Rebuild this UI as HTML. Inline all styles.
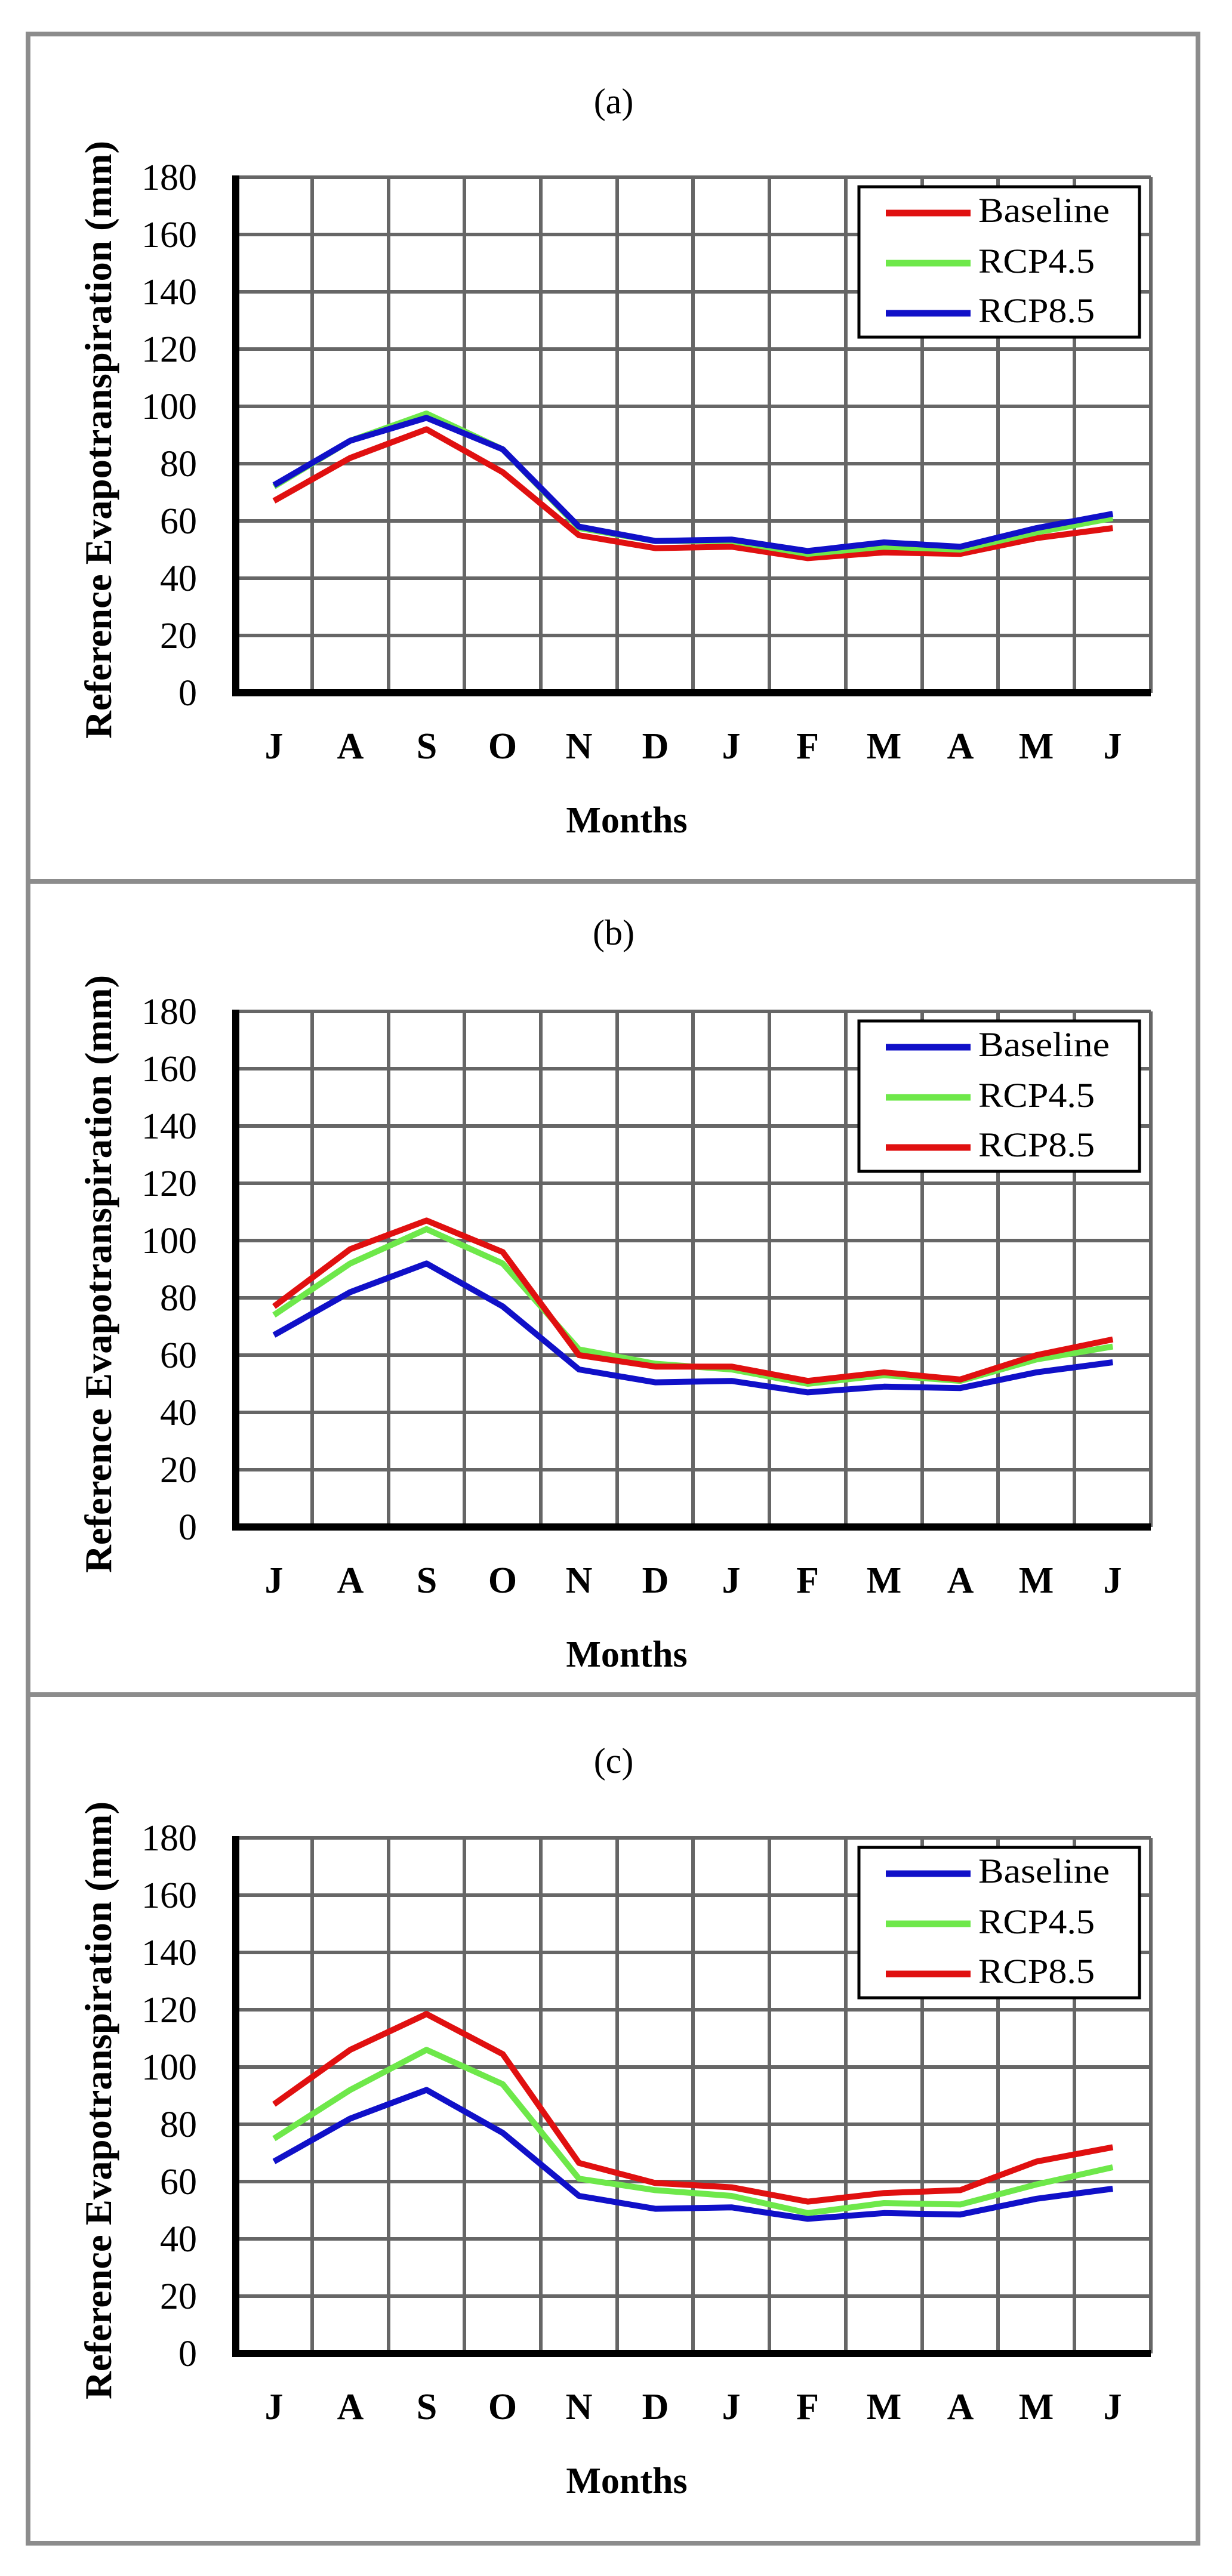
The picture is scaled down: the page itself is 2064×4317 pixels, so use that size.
<!DOCTYPE html>
<html><head><meta charset="utf-8"><style>
html,body{margin:0;padding:0;background:#fff;}
svg{display:block;}
text{font-family:"Liberation Serif",serif;fill:#000;}
.tk{font-size:62px;text-anchor:end;}
.ti{font-size:60px;text-anchor:middle;}
.xl{font-size:62px;font-weight:bold;text-anchor:middle;}
.yl{font-size:64px;font-weight:bold;text-anchor:middle;}
.lg{font-size:58px;}
.grid line{stroke:#666;stroke-width:6;}
.s{fill:none;stroke-width:10;stroke-linejoin:round;vector-effect:non-scaling-stroke;}
</style></head><body>
<svg width="2064" height="4317" viewBox="0 0 2064 4317" xmlns="http://www.w3.org/2000/svg">
<rect x="0" y="0" width="2064" height="4317" fill="#fff"/>
<rect x="47" y="57" width="1960" height="4205" fill="none" stroke="#8c8c8c" stroke-width="8"/>
<line x1="47" y1="1477" x2="2007" y2="1477" stroke="#8c8c8c" stroke-width="8"/>
<line x1="47" y1="2840" x2="2007" y2="2840" stroke="#8c8c8c" stroke-width="8"/>
<defs>
<g id="frame">
 <g class="grid">
  <line x1="395" y1="0" x2="1928" y2="0"/><line x1="395" y1="96" x2="1928" y2="96"/><line x1="395" y1="192" x2="1928" y2="192"/><line x1="395" y1="288" x2="1928" y2="288"/><line x1="395" y1="384" x2="1928" y2="384"/><line x1="395" y1="480" x2="1928" y2="480"/><line x1="395" y1="576" x2="1928" y2="576"/><line x1="395" y1="672" x2="1928" y2="672"/><line x1="395" y1="768" x2="1928" y2="768"/>
  <line x1="523" y1="0" x2="523" y2="864"/><line x1="651" y1="0" x2="651" y2="864"/><line x1="778" y1="0" x2="778" y2="864"/><line x1="906" y1="0" x2="906" y2="864"/><line x1="1034" y1="0" x2="1034" y2="864"/><line x1="1161" y1="0" x2="1161" y2="864"/><line x1="1289" y1="0" x2="1289" y2="864"/><line x1="1417" y1="0" x2="1417" y2="864"/><line x1="1545" y1="0" x2="1545" y2="864"/><line x1="1672" y1="0" x2="1672" y2="864"/><line x1="1800" y1="0" x2="1800" y2="864"/><line x1="1928" y1="0" x2="1928" y2="864"/>
 </g>
 <line x1="395" y1="-3" x2="395" y2="870" stroke="#000" stroke-width="12"/>
 <line x1="389" y1="864" x2="1928" y2="864" stroke="#000" stroke-width="12"/>
 <g class="tk">
  <text x="330" y="21">180</text><text x="330" y="117">160</text><text x="330" y="213">140</text><text x="330" y="309">120</text><text x="330" y="405">100</text><text x="330" y="501">80</text><text x="330" y="597">60</text><text x="330" y="693">40</text><text x="330" y="789">20</text><text x="330" y="885">0</text>
 </g>
 <g class="xl">
  <text x="459" y="974">J</text><text x="587" y="974">A</text><text x="715" y="974">S</text><text x="842" y="974">O</text><text x="970" y="974">N</text><text x="1098" y="974">D</text><text x="1225" y="974">J</text><text x="1353" y="974">F</text><text x="1481" y="974">M</text><text x="1609" y="974">A</text><text x="1736" y="974">M</text><text x="1864" y="974">J</text>
 </g>
 <text class="xl" x="1050" y="1098">Months</text>
 <text class="yl" transform="translate(186,440) rotate(-90)" textLength="1002" lengthAdjust="spacingAndGlyphs">Reference Evapotranspiration (mm)</text>
 <rect x="1439" y="16" width="470" height="252" fill="#fff" stroke="#000" stroke-width="5"/>
</g>
</defs>

<!-- panel a -->
<g transform="translate(0,297)">
 <use href="#frame"/>
 <text class="ti" x="1028" y="-107">(a)</text>
 <g transform="translate(459,864) scale(127.75,-4.8)">
  <polyline class="s" stroke="#e01010" points="0,67 1,82 2,92 3,77 4,55 5,50.5 6,51 7,47 8,49 9,48.5 10,54 11,57.5"/>
  <polyline class="s" stroke="#6ee84a" points="0,72 1,88 2,97.5 3,85 4,57.5 5,53 6,53 7,48.5 8,51 9,50 10,56 11,61"/>
  <polyline class="s" stroke="#1010c8" points="0,72.5 1,88 2,96 3,85 4,58 5,53 6,53.5 7,49.5 8,52.5 9,51 10,57.5 11,62.5"/>
 </g>
 <line x1="1484" y1="60" x2="1626" y2="60" stroke="#e01010" stroke-width="11"/>
 <line x1="1484" y1="144" x2="1626" y2="144" stroke="#6ee84a" stroke-width="11"/>
 <line x1="1484" y1="228" x2="1626" y2="228" stroke="#1010c8" stroke-width="11"/>
 <text class="lg" x="1639" y="75" textLength="220" lengthAdjust="spacingAndGlyphs">Baseline</text>
 <text class="lg" x="1639" y="160" textLength="195" lengthAdjust="spacingAndGlyphs">RCP4.5</text>
 <text class="lg" x="1639" y="243" textLength="195" lengthAdjust="spacingAndGlyphs">RCP8.5</text>
</g>

<!-- panel b -->
<g transform="translate(0,1695)">
 <use href="#frame"/>
 <text class="ti" x="1028" y="-112">(b)</text>
 <g transform="translate(459,864) scale(127.75,-4.8)">
  <polyline class="s" stroke="#1010c8" points="0,67 1,82 2,92 3,77 4,55 5,50.5 6,51 7,47 8,49 9,48.5 10,54 11,57.5"/>
  <polyline class="s" stroke="#6ee84a" points="0,74 1,92 2,104 3,92 4,62 5,57 6,55 7,50 8,53 9,51 10,58.5 11,63"/>
  <polyline class="s" stroke="#e01010" points="0,77 1,97 2,107 3,96 4,60 5,56 6,56 7,51 8,54 9,51.5 10,60 11,65.5"/>
 </g>
 <line x1="1484" y1="60" x2="1626" y2="60" stroke="#1010c8" stroke-width="11"/>
 <line x1="1484" y1="144" x2="1626" y2="144" stroke="#6ee84a" stroke-width="11"/>
 <line x1="1484" y1="228" x2="1626" y2="228" stroke="#e01010" stroke-width="11"/>
 <text class="lg" x="1639" y="75" textLength="220" lengthAdjust="spacingAndGlyphs">Baseline</text>
 <text class="lg" x="1639" y="160" textLength="195" lengthAdjust="spacingAndGlyphs">RCP4.5</text>
 <text class="lg" x="1639" y="243" textLength="195" lengthAdjust="spacingAndGlyphs">RCP8.5</text>
</g>

<!-- panel c -->
<g transform="translate(0,3080)">
 <use href="#frame"/>
 <text class="ti" x="1028" y="-109">(c)</text>
 <g transform="translate(459,864) scale(127.75,-4.8)">
  <polyline class="s" stroke="#1010c8" points="0,67 1,82 2,92 3,77 4,55 5,50.5 6,51 7,47 8,49 9,48.5 10,54 11,57.5"/>
  <polyline class="s" stroke="#6ee84a" points="0,75 1,92 2,106 3,94 4,61 5,57 6,55 7,49 8,52.5 9,52 10,59 11,65"/>
  <polyline class="s" stroke="#e01010" points="0,87 1,106 2,118.5 3,104.5 4,66.5 5,59.5 6,58 7,53 8,56 9,57 10,67 11,72"/>
 </g>
 <line x1="1484" y1="60" x2="1626" y2="60" stroke="#1010c8" stroke-width="11"/>
 <line x1="1484" y1="144" x2="1626" y2="144" stroke="#6ee84a" stroke-width="11"/>
 <line x1="1484" y1="228" x2="1626" y2="228" stroke="#e01010" stroke-width="11"/>
 <text class="lg" x="1639" y="75" textLength="220" lengthAdjust="spacingAndGlyphs">Baseline</text>
 <text class="lg" x="1639" y="160" textLength="195" lengthAdjust="spacingAndGlyphs">RCP4.5</text>
 <text class="lg" x="1639" y="243" textLength="195" lengthAdjust="spacingAndGlyphs">RCP8.5</text>
</g>
</svg>
</body></html>
